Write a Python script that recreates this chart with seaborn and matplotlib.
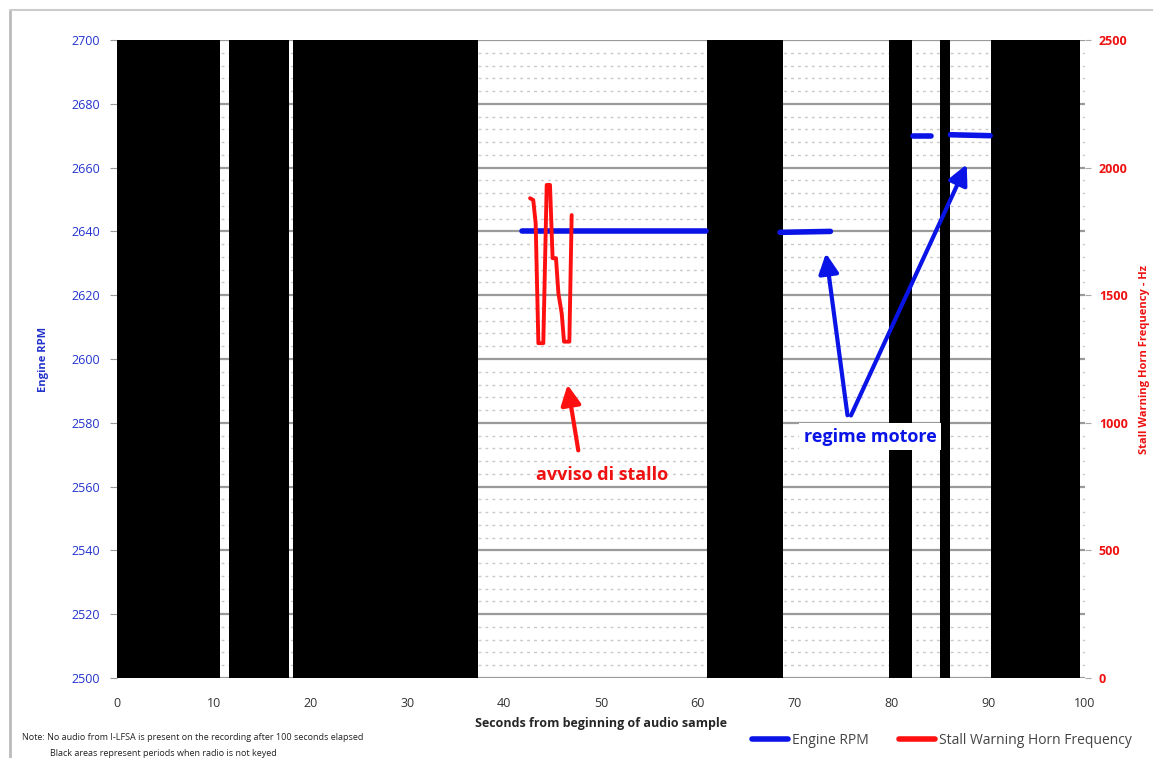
import numpy as np
import pandas as pd
import matplotlib
matplotlib.use("Agg")
import matplotlib.pyplot as plt
from matplotlib.lines import Line2D
import seaborn as sns

# ---- data ----
band_start = [0, 11.6, 18.2, 61.0, 79.8, 85.0, 90.3]
band_end = [10.6, 17.8, 37.3, 68.8, 82.1, 86.1, 99.5]

rpm_time = [41.8, 60.8, 68.5, 73.7, 82.2, 84.1, 86.1, 90.2]
rpm_value = [2640, 2640, 2639.7, 2640, 2670, 2670, 2670.3, 2670]
rpm_segment = [1, 1, 2, 2, 3, 3, 4, 4]

horn_time = [42.67, 43.0, 43.25, 43.53, 44.04, 44.39, 44.73, 45.0, 45.35,
             45.6, 45.94, 46.18, 46.73, 46.97]
horn_hz = [1880, 1873, 1782, 1312, 1312, 1932, 1932, 1645, 1645,
           1507, 1429, 1318, 1318, 1814]

x_ticks = list(range(0, 101, 10))
rpm_ticks = list(range(2500, 2701, 20))
hz_ticks = list(range(0, 2501, 500))

sns.set_theme(style="white")
plt.rcParams['font.family'] = ['Open Sans', 'DejaVu Sans']

fig = plt.figure(figsize=(11.53, 7.58), dpi=100)
ax = fig.add_axes([117/1153, 1-678/758, (1085-117)/1153, (678-40)/758])

# gridlines
for v in np.arange(2500, 2701, 4):
    if (v - 2500) % 20 == 0:
        ax.axhline(v, color='#9a9a9a', lw=1.6, zorder=1)
    else:
        ax.axhline(v, color='#c8c8c8', lw=1.0, ls=(0, (2, 3)), zorder=1)

# black bands
for s, e in zip(band_start, band_end):
    ax.axvspan(s, e, color='black', lw=0, zorder=2)

df_rpm = pd.DataFrame({'t': rpm_time, 'rpm': rpm_value, 'seg': rpm_segment})
sns.lineplot(data=df_rpm, x='t', y='rpm', units='seg', estimator=None,
             color='#0a14e6', lw=4, ax=ax, zorder=4)

ax.set_xlim(0, 100)
ax.set_ylim(2500, 2700)
ax.set_xticks(x_ticks)
ax.set_yticks(rpm_ticks)
ax.tick_params(axis='y', colors='#999999', labelcolor='#2233cc', labelsize=9,
               length=5, width=0.8, left=True, direction='out', pad=7)
ax.tick_params(axis='x', labelsize=9, colors='#333333', length=0, pad=14)
ax.set_xlabel('Seconds from beginning of audio sample', fontsize=9,
              fontweight='bold', labelpad=5)
ax.set_ylabel('Engine RPM', color='#2233cc', fontsize=8, fontweight='bold',
              labelpad=16)
for sp in ax.spines.values():
    sp.set_visible(False)

ax2 = ax.twinx()
df_horn = pd.DataFrame({'t': horn_time, 'hz': horn_hz})
sns.lineplot(data=df_horn, x='t', y='hz', color='#ff1010', lw=2.8, ax=ax2,
             estimator=None, sort=False, zorder=5)
ax2.set_ylim(0, 2500)
ax2.set_yticks(hz_ticks)
ax2.tick_params(axis='y', colors='#aaaaaa', labelcolor='#ee1111', labelsize=9,
                length=4, width=0.8, right=True, direction='out', pad=6)
for lab in ax2.get_yticklabels():
    lab.set_fontweight('bold')
ax2.set_ylabel('Stall Warning Horn Frequency - Hz', color='#ee1111', fontsize=8,
               fontweight='bold', labelpad=8)
for sp in ax2.spines.values():
    sp.set_visible(False)
ax2.set_xlim(0, 100)

# annotations
ax.annotate('', xy=(46.5, 2592.8), xytext=(47.7, 2570.5),
            arrowprops=dict(arrowstyle='-|>', color='#ff1010', lw=3,
                            mutation_scale=30), zorder=6)
ax.text(50.1, 2563.6, 'avviso di stallo', color='#ee1111', fontsize=13,
        fontweight='bold', ha='center', va='center', zorder=6)

ax.annotate('', xy=(73.2, 2634.0), xytext=(75.5, 2581.5),
            arrowprops=dict(arrowstyle='-|>', color='#0a14e6', lw=3,
                            mutation_scale=30), zorder=6)
ax.annotate('', xy=(87.9, 2661.8), xytext=(75.7, 2581.5),
            arrowprops=dict(arrowstyle='-|>', color='#0a14e6', lw=3,
                            mutation_scale=30), zorder=6)
ax.text(77.8, 2575.6, 'regime motore', color='#0a14e6', fontsize=13,
        fontweight='bold', ha='center', va='center', zorder=7,
        bbox=dict(boxstyle='square,pad=0.25', fc='white', ec='none'))

# notes
fig.text(22/1153, 1-738/758, 'Note: No audio from I-LFSA is present on the recording after 100 seconds elapsed',
         fontsize=6.5, color='#222222', va='center')
fig.text(50/1153, 1-753/758, 'Black areas represent periods when radio is not keyed',
         fontsize=6.5, color='#222222', va='center')

# legend
handles = [Line2D([0], [0], color='#0a14e6', lw=4),
           Line2D([0], [0], color='#ff1010', lw=4)]
fig.legend(handles, ['Engine RPM', 'Stall Warning Horn Frequency'],
           loc='center', bbox_to_anchor=(942/1153, 1-740/758), ncol=2,
           frameon=False, fontsize=10, handlelength=2.6, handletextpad=0.3,
           columnspacing=2.2, labelcolor='#444444')

# frame lines
fig.add_artist(Line2D([10/1153, 10/1153], [0, 1-10/758], color='#bbbbbb', lw=2))
fig.add_artist(Line2D([10/1153, 1], [1-10/758, 1-10/758], color='#cccccc', lw=1.5))

fig.savefig('out.png', dpi=100, facecolor='white')
